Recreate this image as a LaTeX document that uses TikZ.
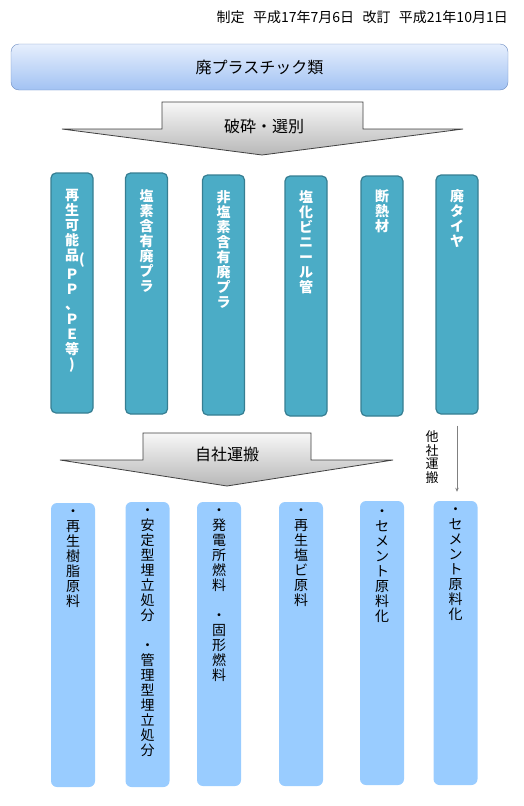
\documentclass[tikz,border=0pt]{standalone}
\usepackage{fontspec}
\setmainfont{Noto Sans CJK JP}
\usepackage{xcolor}
\usetikzlibrary{arrows.meta,positioning,calc}

\definecolor{titletop}{HTML}{E6EFFD}
\definecolor{titlebot}{HTML}{A2C2F3}
\definecolor{titleline}{HTML}{6F8EC2}
\definecolor{catfill}{HTML}{4BACC6}
\definecolor{catline}{HTML}{367E92}
\definecolor{usefill}{HTML}{99CCFF}

\begin{document}
\begin{tikzpicture}[x=1pt,y=-1pt,
    title/.style={draw=titleline,rounded corners=8pt,top color=titletop,bottom color=titlebot,
      minimum width=497pt,minimum height=46pt,font=\fontsize{16}{18}\selectfont},
    catbox/.style={draw=catline,line width=1.2pt,fill=catfill,rounded corners=5pt,
      minimum width=42pt,minimum height=240pt},
    cattext/.style={align=center,inner sep=0pt,text=white,font=\fontsize{14}{15}\selectfont\bfseries},
    usebox/.style={fill=usefill,rounded corners=6pt,minimum width=44pt,minimum height=284pt},
    usetext/.style={align=center,inner sep=0pt,font=\fontsize{14}{15}\selectfont},
    bigarrow/.style={draw=black!75,line width=0.8pt,top color=black!3,bottom color=black!28},
    arrowtext/.style={font=\fontsize{16}{18}\selectfont},
    >={Stealth[length=4pt,width=3.5pt]}
  ]
    \useasboundingbox (0,0) rectangle (524,806);

    \node[anchor=east,inner sep=0pt,font=\fontsize{14}{16}\selectfont] (date) at (508,17) {制定\hspace{0.6em}平成17年7月6日\hspace{0.6em}改訂\hspace{0.6em}平成21年10月1日};
    \node[title] (waste) at (259.5,67) {廃プラスチック類};

    % sorting arrow
    \path[bigarrow] (162,102) -- (363,102) -- (363,129) -- (463,129) -- (262,155)
      -- (62,129) -- (162,129) -- cycle;
    \node[arrowtext] (sort) at (264,126) {破砕・選別};

    % categories
    \node[catbox,minimum height=240pt] (t1) at (72,293) {};
    \node[catbox,minimum height=241pt] (t2) at (146.5,293.5) {};
    \node[catbox] (t3) at (223.5,295) {};
    \node[catbox] (t4) at (306,296) {};
    \node[catbox] (t5) at (382,296) {};
    \node[catbox,minimum height=239pt] (t6) at (457,294.5) {};

    \node[cattext,below=17pt of t1.north] (t1t) {再\\生\\可\\能\\品\rlap{\raisebox{-4pt}{(}}\\Ｐ\\Ｐ\\、\\Ｐ\\Ｅ\\等\\)};
    \node[cattext,below=17pt of t2.north] (t2t) {塩\\素\\含\\有\\廃\\プ\\ラ};
    \node[cattext,below=16pt of t3.north] (t3t) {非\\塩\\素\\含\\有\\廃\\プ\\ラ};
    \node[cattext,below=15pt of t4.north] (t4t) {塩\\化\\ビ\\ニ\\ー\\ル\\管};
    \node[cattext,below=14pt of t5.north] (t5t) {断\\熱\\材};
    \node[cattext,below=15pt of t6.north] (t6t) {廃\\タ\\イ\\ヤ};

    % own transport
    \path[bigarrow] (143,433) -- (311,433) -- (311,460) -- (393,460) -- (227,486)
      -- (60,460) -- (143,460) -- cycle;
    \node[arrowtext] (own) at (227,454) {自社運搬};

    % uses
    \node[usebox] (b1) at (73,645) {};
    \node[usebox,minimum height=285pt] (b2) at (147.5,644.5) {};
    \node[usebox] (b3) at (219,644) {};
    \node[usebox] (b4) at (301,644) {};
    \node[usebox] (b5) at (382,643) {};
    \node[usebox] (b6) at (455.5,643) {};

    \node[usetext,below=7pt of b1.north] (b1t) {・\\再\\生\\樹\\脂\\原\\料};
    \node[usetext,below=7pt of b2.north] (b2t) {・\\安\\定\\型\\埋\\立\\処\\分\\[15pt]・\\管\\理\\型\\埋\\立\\処\\分};
    \node[usetext,below=7pt of b3.north] (b3t) {・\\発\\電\\所\\燃\\料\\[15pt]・\\固\\形\\燃\\料};
    \node[usetext,below=7pt of b4.north] (b4t) {・\\再\\生\\塩\\ビ\\原\\料};
    \node[usetext,below=9pt of b5.north] (b5t) {・\\セ\\メ\\ン\\ト\\原\\料\\化};
    \node[usetext,below=7pt of b6.north] (b6t) {・\\セ\\メ\\ン\\ト\\原\\料\\化};

    % other company transport
    \draw[->,black!50,line width=0.7pt,shorten <=11pt,shorten >=9pt] (t6.south) -- (t6.south |- b6.north);
    \node[align=center,inner sep=0pt,font=\fontsize{13}{13.5}\selectfont] (other) at (432,457) {他\\社\\運\\搬};
\end{tikzpicture}
\end{document}
